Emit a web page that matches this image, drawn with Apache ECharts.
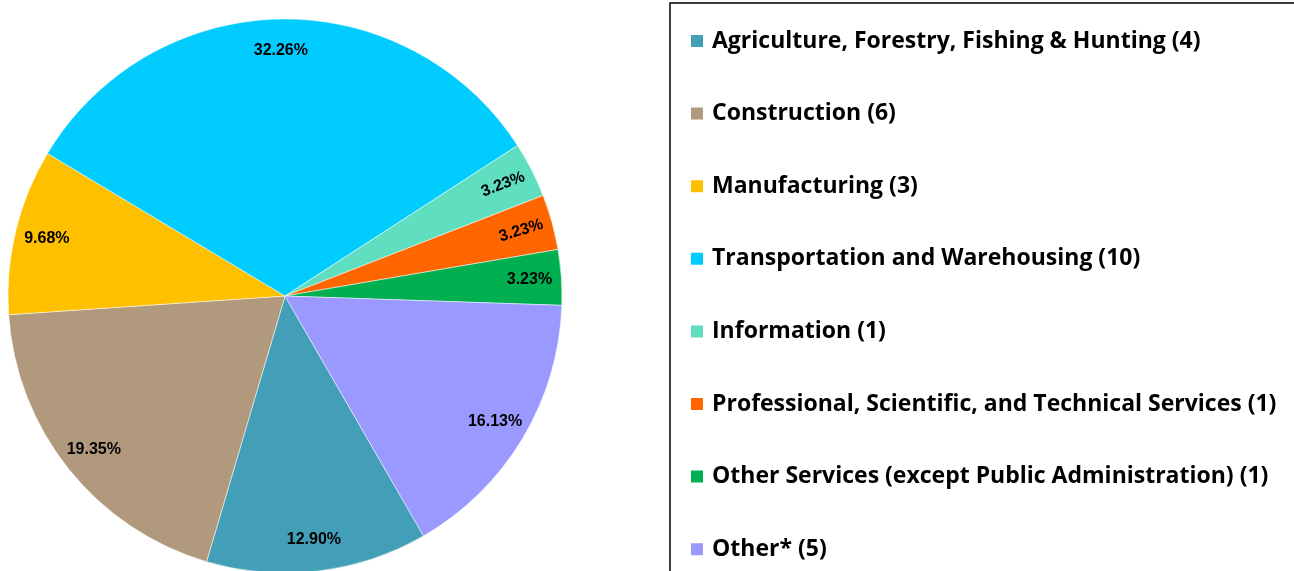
<!DOCTYPE html>
<html>
<head>
<meta charset="utf-8">
<script src="https://cdn.jsdelivr.net/npm/echarts@6/dist/echarts.min.js"></script>
<style>
    html, body { margin: 0; padding: 0; background: #fff; }
    #chart { width: 1294px; height: 571px; }
</style>
</head>
<body>
<div id="chart"></div>
<script>
// 行业分类
var categories = [
    'Agriculture, Forestry, Fishing & Hunting',
    'Construction',
    'Manufacturing',
    'Transportation and Warehousing',
    'Information',
    'Professional, Scientific, and Technical Services',
    'Other Services (except Public Administration)',
    'Other*'
];
// 数量
var counts = [4, 6, 3, 10, 1, 1, 1, 5];
var colors = ['#439fb7', '#b1997e', '#ffc000', '#00ccff', '#5fdfc0', '#ff6600', '#00b050', '#9999ff'];

(function () {
    var chartDom = document.getElementById('chart');
    var myChart = echarts.init(chartDom);
    var option;

    var total = counts.reduce(function (a, b) { return a + b; }, 0);
    var names = categories.map(function (c, i) { return c + ' (' + counts[i] + ')'; });
    // 标签倾斜角度
    var tilt = { 4: 21, 5: 17 };

    var pieData = names.map(function (n, i) {
        return { name: n, value: counts[i], itemStyle: { color: colors[i] } };
    });
    var labelData = names.map(function (n, i) {
        return { name: n, value: counts[i], label: { rotate: tilt[i] || 0 } };
    });

    option = {
        animation: false,
        legend: {
            orient: 'vertical',
            left: 689,
            top: 29,
            height: 640,
            padding: 0,
            icon: 'rect',
            itemWidth: 14,
            itemHeight: 14,
            itemGap: 48.6,
            data: names,
            textStyle: {
                color: '#000',
                fontFamily: 'Open Sans',
                fontWeight: 'bold',
                fontSize: 23,
                lineHeight: 24,
                padding: [0, 0, 0, 3]
            }
        },
        graphic: [{
            type: 'rect',
            shape: { x: 670, y: 3, width: 700, height: 700 },
            style: { fill: 'none', stroke: '#000', lineWidth: 1.5 },
            silent: true
        }],
        series: [
            {
                type: 'pie',
                center: [285, 296],
                radius: 277,
                startAngle: -60,
                clockwise: true,
                label: { show: false },
                labelLine: { show: false },
                itemStyle: { borderColor: '#fff', borderWidth: 0.5 },
                data: pieData
            },
            {
                // 百分比标签
                type: 'pie',
                center: [285, 296],
                radius: [207, 277],
                startAngle: -60,
                clockwise: true,
                silent: true,
                legendHoverLink: false,
                itemStyle: { color: 'rgba(0,0,0,0)' },
                label: {
                    show: true,
                    position: 'inside',
                    color: '#000',
                    fontFamily: 'Liberation Sans',
                    fontWeight: 'bold',
                    fontSize: 16,
                    formatter: function (p) {
                        return (p.value / total * 100).toFixed(2) + '%';
                    }
                },
                labelLine: { show: false },
                data: labelData
            }
        ]
    };

    myChart.setOption(option);
    window.addEventListener('resize', function () { myChart.resize(); });
})();
</script>
</body>
</html>
